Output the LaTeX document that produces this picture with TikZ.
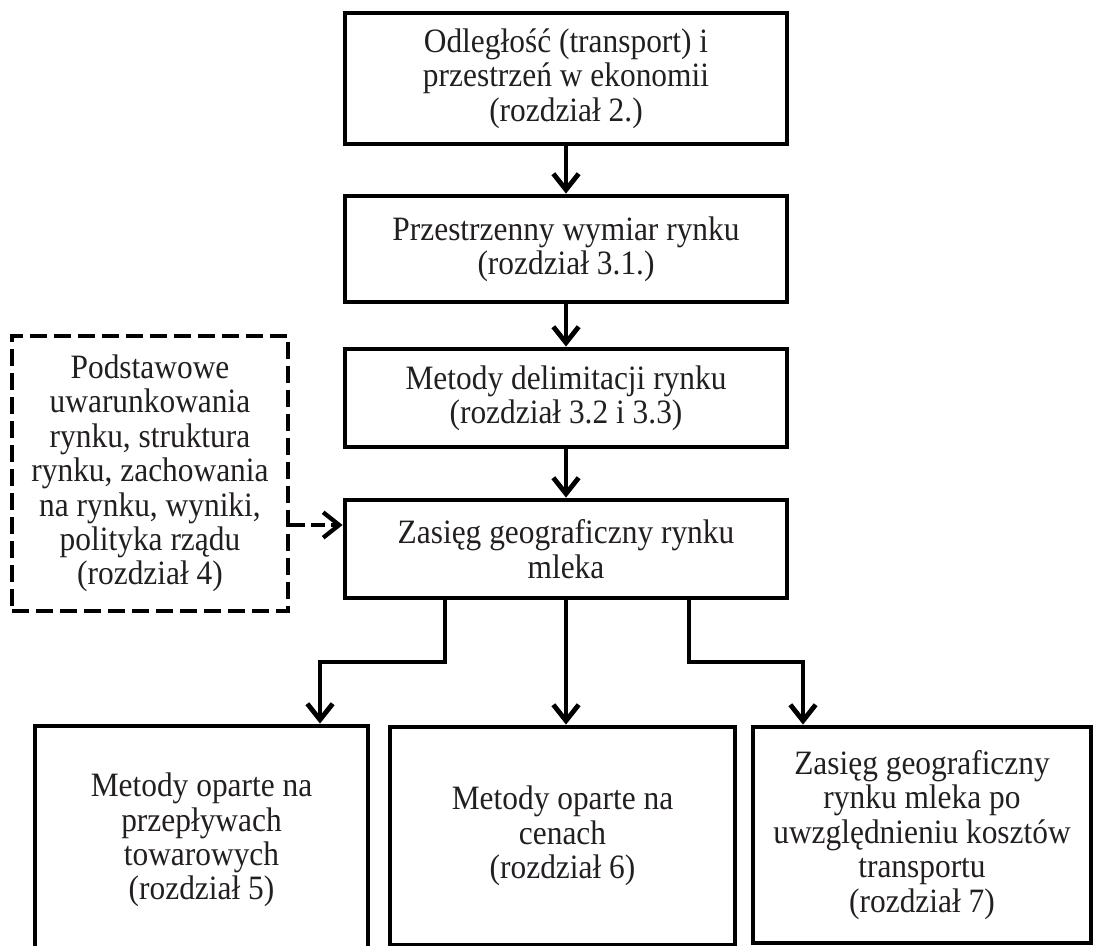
\documentclass[tikz,border=0pt]{standalone}
\usepackage{fontspec}
\setmainfont{Liberation Serif}[FakeStretch=0.92]
\usetikzlibrary{arrows.meta}
\definecolor{inkgray}{HTML}{231F20}
\newcommand{\boxfont}{\fontsize{25.6pt}{25.8pt}\selectfont}
\begin{document}
\begin{tikzpicture}[x=0.75pt, y=-0.75pt,
  box/.style={draw=black, line width=3.6pt, align=center, inner sep=0pt, font=\boxfont, text=inkgray},
  dbox/.style={box, line width=3.2pt, dash pattern=on 12.5pt off 5.5pt},
  arr/.style={line width=3.6pt, -{Straight Barb[length=12pt,width=19pt]}},
  darr/.style={line width=3.2pt, dash pattern=on 11pt off 4.5pt, -{Straight Barb[length=12pt,width=19pt]}}]
\useasboundingbox (0,0) rectangle (1093,946);

% main chain
\node[box, minimum width=331.5pt, minimum height=98.25pt] (b1) at (566,78.5)
  {Odległość (transport) i\\przestrzeń w ekonomii\\(rozdział 2.)};
\node[box, minimum width=331.5pt, minimum height=79.5pt] (b2) at (566,249)
  {Przestrzenny wymiar rynku\\(rozdział 3.1.)};
\node[box, minimum width=331.5pt, minimum height=73.5pt] (b3) at (566,398)
  {Metody delimitacji rynku\\(rozdział 3.2 i 3.3)};
\node[box, minimum width=331.5pt, minimum height=73.5pt] (b4) at (566,549)
  {Zasięg geograficzny rynku\\mleka};

% side input
\node[dbox, minimum width=207pt, minimum height=206.25pt] (db) at (150,473.5)
  {Podstawowe\\uwarunkowania\\rynku, struktura\\rynku, zachowania\\na rynku, wyniki,\\polityka rządu\\(rozdział 4)};

% bottom row
\node[box, minimum width=249.75pt, minimum height=171pt] (lb) at (201.5,840)
  {Metody oparte na\\przepływach\\towarowych\\(rozdział 5)};
\node[box, minimum width=258.75pt, minimum height=163.5pt] (mb) at (562.5,836)
  {Metody oparte na\\cenach\\(rozdział 6)};
\node[box, minimum width=253.5pt, minimum height=162pt] (rb) at (922,835)
  {Zasięg geograficzny\\rynku mleka po\\uwzględnieniu kosztów\\transportu\\(rozdział 7)};

% connectors
\draw[arr] (b1) -- (b2);
\draw[arr] (b2) -- (b3);
\draw[arr] (b3) -- (b4);

\coordinate (dy) at (0,525);
\draw[darr] (db.east |- dy) -- (b4.west |- dy);

\coordinate (jl) at (445,662);
\coordinate (jl2) at (320,662);
\coordinate (jr) at (689,662);
\coordinate (jr2) at (803,662);
\draw[arr] (b4.south -| jl) -- (jl) -- (jl2) -- (lb.north -| jl2);
\draw[arr] (b4.south) -- (b4.south |- mb.north);
\draw[arr] (b4.south -| jr) -- (jr) -- (jr2) -- (rb.north -| jr2);
\end{tikzpicture}
\end{document}
